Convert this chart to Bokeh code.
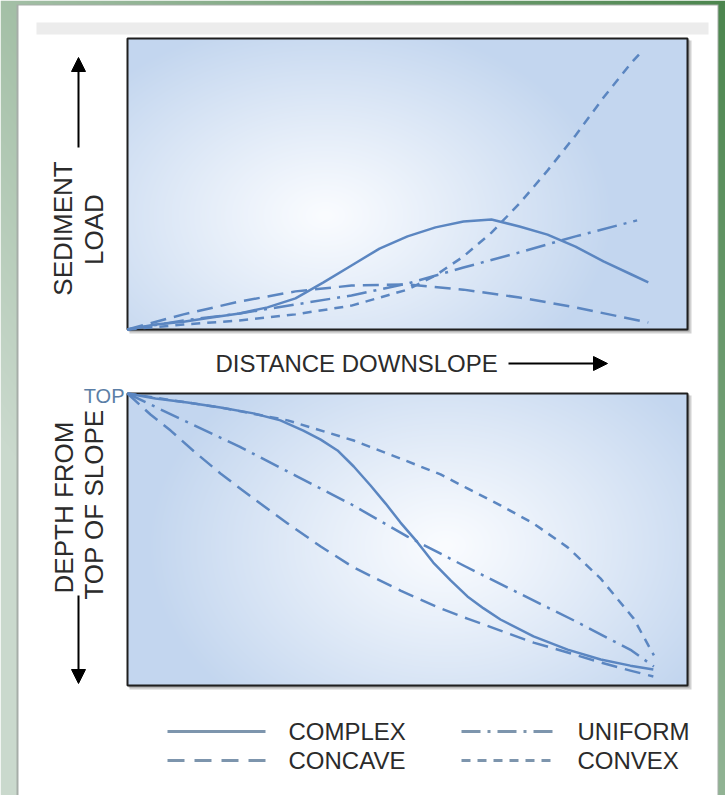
import numpy as np
from bokeh.plotting import figure
from bokeh.models import Range1d, Label, Arrow, NormalHead
from bokeh.embed import file_html
from bokeh.resources import INLINE

# ---------------- data (arbitrary units, 0-10 along each panel) ----------------
# Upper panel: sediment load vs distance downslope
load_complex_x = [0, 0.5, 1, 1.5, 2, 2.5, 3, 3.5, 4, 4.5, 5, 5.5, 6, 6.5, 7, 7.5, 8, 8.5, 9, 9.3]
load_complex_y = [0, 0.17, 0.27, 0.41, 0.55, 0.76, 1.07, 1.62, 2.20, 2.78, 3.20, 3.51, 3.71, 3.78, 3.54, 3.26, 2.85, 2.34, 1.89, 1.62]
load_concave_x = [0, 1, 2, 3, 4, 5, 6, 7, 8, 9.3]
load_concave_y = [0, 0.52, 0.96, 1.31, 1.51, 1.55, 1.37, 1.10, 0.76, 0.24]
load_uniform_x = [0, 1, 2, 3, 4, 5, 6, 7, 8, 9.1]
load_uniform_y = [0, 0.31, 0.55, 0.86, 1.17, 1.58, 2.13, 2.65, 3.20, 3.75]
load_convex_x = [0, 1, 2, 3, 4, 5, 5.5, 6, 6.5, 7, 7.5, 8, 8.5, 9, 9.2]
load_convex_y = [0, 0.17, 0.31, 0.52, 0.82, 1.37, 1.86, 2.51, 3.33, 4.33, 5.46, 6.67, 7.97, 9.17, 9.59]

# Lower panel: depth from top of slope vs distance downslope
depth_complex_x = [0, 0.5, 1.07, 1.66, 2.25, 2.73, 3.14, 3.45, 3.75, 4.04, 4.34, 4.61, 4.875, 5.18,
                   5.46, 5.77, 6.07, 6.36, 6.66, 7.25, 7.86, 8.45, 8.98, 9.39]
depth_complex_y = [0, 0.17, 0.31, 0.48, 0.68, 0.92, 1.27, 1.58, 1.95, 2.50, 3.15, 3.77, 4.42, 5.10,
                   5.79, 6.40, 6.95, 7.36, 7.74, 8.32, 8.77, 9.11, 9.32, 9.45]
depth_concave_x = [0, 0.41, 0.77, 1.21, 1.66, 2.25, 2.86, 3.45, 4.04, 4.875, 5.59, 6.07, 6.66, 7.25,
                   7.86, 8.45, 8.98, 9.39]
depth_concave_y = [0, 0.72, 1.27, 2.02, 2.74, 3.60, 4.45, 5.24, 5.96, 6.75, 7.36, 7.71, 8.12, 8.53,
                   8.87, 9.21, 9.49, 9.69]
depth_uniform_x = [0, 1, 2, 3, 4, 5, 6, 7, 8, 9, 9.4]
depth_uniform_y = [0, 0.92, 1.82, 2.81, 3.80, 4.90, 5.89, 6.85, 7.80, 8.80, 9.35]
depth_convex_x = [0, 1.66, 2.86, 4.04, 4.875, 5.59, 6.07, 6.66, 7.25, 7.86, 8.45, 9.04, 9.4]
depth_convex_y = [0, 0.48, 0.92, 1.61, 2.23, 2.77, 3.25, 3.83, 4.45, 5.27, 6.34, 7.71, 8.97]

series_names = ["COMPLEX", "CONCAVE", "UNIFORM", "CONVEX"]
axis_texts = ["SEDIMENT", "LOAD", "DISTANCE DOWNSLOPE", "DEPTH FROM", "TOP OF SLOPE", "TOP"]

# ---------------- layout / style ----------------
W, H = 725, 795
def cx(px): return px
def cy(py): return H - py

FONT = "Liberation Sans"
TXT = "#2b2b2b"
LINE_C = "#5b86c1"
LEG_C = "#7d95ad"
dashes = {"COMPLEX": "solid", "CONCAVE": "16 8", "UNIFORM": "20 7 3 7", "CONVEX": "9 7"}
leg_dashes = {"COMPLEX": "solid", "CONCAVE": "17 10", "UNIFORM": "19 7 3 7", "CONVEX": "9 7"}

# panel pixel boxes (page coords): left, right, top, bottom
TOPP = (127, 687, 38, 329)
BOTP = (127, 687, 393, 685)

p = figure(width=W, height=H, x_range=Range1d(0, W), y_range=Range1d(0, H),
           output_backend="svg", toolbar_location=None, min_border=0,
           x_axis_location=None, y_axis_location=None)
p.grid.visible = False
p.outline_line_color = None
p.background_fill_color = "white"
p.border_fill_color = "white"

# extra ranges mapping data units onto panels
l, r, t, b = TOPP
sx = (r - l) / 10.0
p.extra_x_ranges = {"dist": Range1d(start=(0 - cx(l)) / sx, end=(W - cx(l)) / sx)}
syt = (b - t) / 10.0
syb = (BOTP[3] - BOTP[2]) / 10.0
p.extra_y_ranges = {
    "load": Range1d(start=(0 - cy(b)) / syt, end=(H - cy(b)) / syt),
    "depth": Range1d(start=(cy(BOTP[2]) - 0) / syb, end=(cy(BOTP[2]) - H) / syb),
}

# ---- page background: green gradient, white card, gray bar ----
def green_bg(w, h):
    X, Y = np.meshgrid(np.arange(w) + 0.5, np.arange(h) + 0.5)  # Y from bottom
    u = X / w
    vtop = Y / h  # 1 at top
    tt = np.clip(0.7 * u + 0.55 * vtop - 0.25, 0, 1)
    light = np.array([202, 217, 205])
    dark = np.array([76, 134, 78])
    img = np.empty((h, w), dtype=np.uint32)
    v = img.view(dtype=np.uint8).reshape((h, w, 4))
    for k in range(3):
        v[:, :, k] = (light[k] * (1 - tt) + dark[k] * tt).astype(np.uint8)
    v[:, :, 3] = 255
    return img

p.image_rgba(image=[green_bg(W, H)], x=0, y=0, dw=W, dh=H)
p.quad(left=cx(16), right=cx(718), bottom=cy(795), top=cy(4), fill_color="#a6ada8", line_color=None)
p.quad(left=cx(18), right=cx(717), bottom=cy(795), top=cy(5), fill_color="white", line_color=None)
p.quad(left=cx(36), right=cx(708), bottom=cy(34), top=cy(22), fill_color="#ececec", line_color=None)

def gradient(w, h, gx, gy, rx, ry):
    X, Y = np.meshgrid(np.arange(w) + 0.5, np.arange(h) + 0.5)
    d = np.sqrt(((X - gx) / rx) ** 2 + ((Y - gy) / ry) ** 2)
    f = np.clip(d, 0, 1) ** 1.1
    edge = np.array([195, 214, 239])
    center = np.array([250, 252, 255])
    img = np.empty((h, w), dtype=np.uint32)
    v = img.view(dtype=np.uint8).reshape((h, w, 4))
    for k in range(3):
        v[:, :, k] = (center[k] * (1 - f) + edge[k] * f).astype(np.uint8)
    v[:, :, 3] = 255
    return img

def panel(box, glow):
    l, r, t, b = box
    w, h = r - l, b - t
    p.quad(left=cx(l) + 2, right=cx(r) + 4, bottom=cy(b) - 4, top=cy(t) - 2,
           fill_color="#7a7a7a", fill_alpha=0.35, line_color=None)
    p.quad(left=cx(l) + 1, right=cx(r) + 2, bottom=cy(b) - 2, top=cy(t) - 1,
           fill_color="#555555", fill_alpha=0.4, line_color=None)
    gx, gy, rx, ry = glow
    img = gradient(w, h, gx - l, b - gy, rx, ry)
    p.image_rgba(image=[img], x=cx(l), y=cy(b), dw=w, dh=h)
    p.quad(left=cx(l), right=cx(r), bottom=cy(b), top=cy(t), fill_alpha=0,
           line_color="#1f1f1f", line_width=2)

panel(TOPP, (325, 215, 290, 200))
panel(BOTP, (445, 545, 300, 220))

top_series = {
    "CONVEX": (load_convex_x, load_convex_y),
    "CONCAVE": (load_concave_x, load_concave_y),
    "UNIFORM": (load_uniform_x, load_uniform_y),
    "COMPLEX": (load_complex_x, load_complex_y),
}
bot_series = {
    "CONVEX": (depth_convex_x, depth_convex_y),
    "CONCAVE": (depth_concave_x, depth_concave_y),
    "UNIFORM": (depth_uniform_x, depth_uniform_y),
    "COMPLEX": (depth_complex_x, depth_complex_y),
}
for name, (xs, ys) in top_series.items():
    p.line(xs, ys, x_range_name="dist", y_range_name="load", line_color=LINE_C,
           line_width=2.5, line_dash=dashes[name], line_cap="butt", line_join="round")
for name, (xs, ys) in bot_series.items():
    p.line(xs, ys, x_range_name="dist", y_range_name="depth", line_color=LINE_C,
           line_width=2.5, line_dash=dashes[name], line_cap="butt", line_join="round")

def lab(x, y, text, size, angle=0.0, align="center", base="middle", color=TXT):
    p.add_layout(Label(x=cx(x), y=cy(y), text=text, angle=angle, text_align=align,
                       text_baseline=base, text_font=FONT, text_font_size=size,
                       text_color=color))

half_pi = np.pi / 2
lab(62, 228, axis_texts[0], "26px", angle=half_pi)
lab(93, 229, axis_texts[1], "26px", angle=half_pi)
lab(215, 363, axis_texts[2], "24px", align="left")
lab(63, 507, axis_texts[3], "26px", angle=half_pi)
lab(93, 504, axis_texts[4], "26px", angle=half_pi)
lab(124, 395, axis_texts[5], "20px", align="right", base="alphabetic", color="#5b7ea6")

def arrow(x0, y0, x1, y1):
    p.add_layout(Arrow(end=NormalHead(size=14, fill_color="black", line_color="black"),
                       x_start=cx(x0), y_start=cy(y0), x_end=cx(x1), y_end=cy(y1),
                       line_color="black", line_width=2))

arrow(78, 147, 78, 57)
arrow(78, 595, 78, 683)
arrow(508, 363, 607, 363)

# legend
leg_pos = {"COMPLEX": (167, 265, 288, 731), "CONCAVE": (167, 265, 288, 760),
           "UNIFORM": (461, 557, 577, 731), "CONVEX": (461, 557, 577, 760)}
for name in series_names:
    x0, x1, tx, yy = leg_pos[name]
    p.line([cx(x0), cx(x1)], [cy(yy), cy(yy)], line_color=LEG_C, line_width=3,
           line_dash=leg_dashes[name], line_cap="butt")
    lab(tx, yy, name, "24px", align="left")

open("out.html", "w").write(file_html(p, INLINE))
